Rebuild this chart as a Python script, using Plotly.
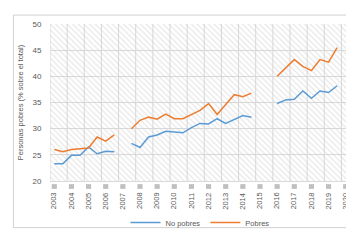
import plotly.graph_objects as go

years = list(range(2003, 2021))
year_labels = [str(y) for y in years]
# semiannual periods 2003-S1 .. 2019-S2
periods = [y + h for y in range(2003, 2020) for h in (0.0, 0.5)]

no_pobres = [23.3, 23.3, 24.9, 24.9, 26.5, 25.2, 25.7, 25.6,
             None, 27.2, 26.4, 28.4, 28.8, 29.5, 29.3, 29.2, 30.2,
             31.0, 30.9, 31.9, 31.0, 31.8, 32.5, 32.2,
             None, None, 34.8, 35.5, 35.6, 37.2, 35.8, 37.2, 36.9, 38.2]
pobres = [26.0, 25.6, 26.0, 26.2, 26.3, 28.4, 27.6, 28.8,
          None, 30.0, 31.6, 32.2, 31.8, 32.8, 31.9, 31.9, 32.7,
          33.5, 34.8, 32.7, 34.6, 36.5, 36.1, 36.8,
          None, None, 40.0, 41.6, 43.2, 41.9, 41.1, 43.2, 42.7, 45.5]

xmin, xmax = 2002.75, 2020.25
ymin, ymax = 20, 50
font = "Liberation Sans, Arial, sans-serif"
txt = "#595959"
grid = "#d9d9d9"

fig = go.Figure()

# hatched plot-area background (a single full-size bar with a pattern)
fig.add_trace(go.Bar(
    x=[(xmin + xmax) / 2], y=[ymax - ymin], base=[ymin], width=[xmax - xmin],
    marker=dict(color="rgba(0,0,0,0)", line=dict(width=0),
                pattern=dict(shape="\\", fgcolor="#cfcfcf", bgcolor="rgba(0,0,0,0)",
                             size=4, solidity=0.3, fillmode="overlay")),
    hoverinfo="skip", showlegend=False))

fig.add_trace(go.Scatter(x=periods, y=no_pobres, mode="lines", name="No pobres",
                         line=dict(color="#5B9BD5", width=1.5), connectgaps=False))
fig.add_trace(go.Scatter(x=periods, y=pobres, mode="lines", name="Pobres",
                         line=dict(color="#ED7D31", width=1.5), connectgaps=False))

shapes = [dict(type="rect", xref="paper", yref="paper",
               x0=-0.122, x1=1.013, y0=-0.297, y1=1.057,
               line=dict(color="#d0d0d0", width=1), layer="below")]
# vertical gridlines at year boundaries
for gx in [y - 0.25 for y in years] + [xmax]:
    shapes.append(dict(type="line", xref="x", yref="paper", x0=gx, x1=gx, y0=0, y1=1,
                       line=dict(color=grid, width=1), layer="below"))
# small grey squares above each year label
for y in years:
    shapes.append(dict(type="rect", xref="x", yref="paper",
                       x0=y - 0.15, x1=y + 0.15, y0=-0.02, y1=-0.05,
                       fillcolor="#bfbfbf", line=dict(width=0), layer="above"))

# rotated year labels
annotations = [dict(x=y, y=-0.06, xref="x", yref="paper", text=lab, textangle=-90,
                    showarrow=False, xanchor="center", yanchor="top",
                    font=dict(size=7.5, color=txt))
               for y, lab in zip(years, year_labels)]

fig.update_layout(
    width=354, height=241,
    margin=dict(l=39, r=12, t=12, b=54),
    paper_bgcolor="white", plot_bgcolor="white",
    font=dict(family=font, color=txt, size=8),
    legend=dict(orientation="h", x=0.5, xanchor="center", y=-0.265, yanchor="middle",
                font=dict(size=7.5, color=txt), itemwidth=30, tracegroupgap=0,
                bgcolor="rgba(0,0,0,0)"),
    xaxis=dict(range=[xmin, xmax], tickmode="array", tickvals=years, ticktext=year_labels,
               showticklabels=False, showgrid=False, ticks="",
               showline=True, linecolor=grid, linewidth=1, zeroline=False),
    yaxis=dict(range=[ymin, ymax], dtick=5, showgrid=True, gridcolor=grid,
               gridwidth=1, zeroline=False, ticks="outside", ticklen=6,
               tickcolor="rgba(0,0,0,0)",
               tickfont=dict(size=8, color=txt),
               title=dict(text="Personas pobres (% sobre el total)",
                          font=dict(size=7.5, color=txt), standoff=7)),
    shapes=shapes,
    annotations=annotations,
    showlegend=True,
)

fig.write_html("out.html")
